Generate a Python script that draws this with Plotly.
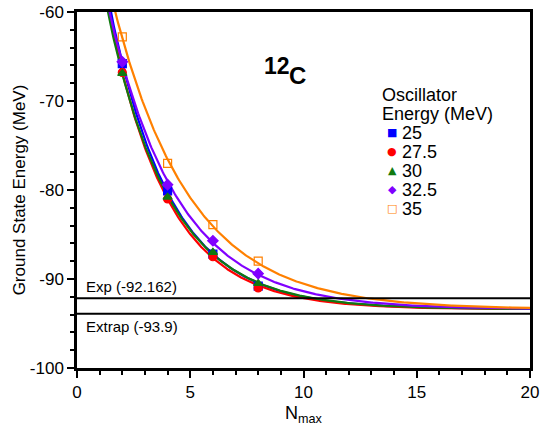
import numpy as np
import plotly.graph_objects as go

# ---- data ----
nmax = [2, 4, 6, 8]
osc_energies = ["25", "27.5", "30", "32.5", "35"]
e_25 = [-65.8, -80.1, -87.2, -90.8]
e_27_5 = [-66.8, -81.0, -87.5, -91.0]
e_30 = [-66.9, -80.8, -87.0, -90.5]
e_32_5 = [-65.6, -79.4, -85.7, -89.4]
e_35 = [-62.8, -77.0, -83.9, -88.0]
exp_value = -92.162
extrap_value = -93.9
x_ticks = [0, 5, 10, 15, 20]
y_ticks = [-100, -90, -80, -70, -60]

series = [e_25, e_27_5, e_30, e_32_5, e_35]
colors = ["#0000FF", "#FF0000", "#107A10", "#8000FF", "#FF8000"]
symbols = ["square", "circle", "triangle-up", "diamond", "square-open"]
legend_glyphs = ["■", "●", "▲", "◆", "□"]

FONT = "Liberation Sans, Arial, Helvetica, sans-serif"


def fit_bc(x, y, a):
    """For fixed asymptote a, fit y = a + b*exp(-c*x) (grid search on c)."""
    best = None
    d = y - a
    for c in np.linspace(0.05, 1.2, 1151):
        e = np.exp(-c * x)
        b = np.dot(e, d) / np.dot(e, e)
        r = np.sum((a + b * e - y) ** 2)
        if best is None or r < best[0]:
            best = (r, b, c)
    return best


def joint_fit(x, ys):
    """Exponential fits sharing a common asymptote."""
    x = np.asarray(x, float)
    ys = [np.asarray(y, float) for y in ys]
    best = None
    for a in np.linspace(-96, -92.6, 69):
        fits = [fit_bc(x, y, a) for y in ys]
        tot = sum(f[0] for f in fits)
        if best is None or tot < best[0]:
            best = (tot, a, fits)
    return best[1], [(f[1], f[2]) for f in best[2]]


asym, params = joint_fit(nmax, series)

fig = go.Figure()
xs = np.linspace(0.5, 20, 400)
for (b, c), col in zip(params, colors):
    fig.add_trace(go.Scatter(x=xs, y=asym + b * np.exp(-c * xs), mode="lines",
                             line=dict(color=col, width=2.2), showlegend=False,
                             hoverinfo="skip"))
for vals, col, sym, name in zip(series, colors, symbols, osc_energies):
    fig.add_trace(go.Scatter(x=nmax, y=vals, mode="markers", name=name,
                             marker=dict(color=col, symbol=sym, size=8,
                                         line=dict(color=col, width=1.2)),
                             showlegend=False))

# reference lines
for val in [exp_value, extrap_value]:
    fig.add_shape(type="line", xref="paper", x0=0, x1=1, yref="y", y0=val, y1=val,
                  line=dict(color="black", width=2))

ann = []
ann.append(dict(x=0.3, y=exp_value, xref="x", yref="y", text=f"Exp ({exp_value})",
                showarrow=False, xanchor="left", yanchor="bottom", yshift=1,
                font=dict(size=15, color="black", family=FONT)))
ann.append(dict(x=0.3, y=extrap_value, xref="x", yref="y", text=f"Extrap ({extrap_value})",
                showarrow=False, xanchor="left", yanchor="top", yshift=-2,
                font=dict(size=15, color="black", family=FONT)))

L, R, T, B = 77, 530, 12, 368


def px_x(px):
    return (px - L) / (R - L)


def px_y(py):
    return (B - py) / (B - T)


# 12C label
ann.append(dict(x=px_x(262), y=px_y(66), xref="paper", yref="paper", text="<b>12</b>",
                showarrow=False, xanchor="left", yanchor="middle",
                font=dict(size=23, color="black", family=FONT)))
ann.append(dict(x=px_x(287), y=px_y(75), xref="paper", yref="paper", text="<b>C</b>",
                showarrow=False, xanchor="left", yanchor="middle",
                font=dict(size=24, color="black", family=FONT)))

# legend (text annotations)
ann.append(dict(x=px_x(381), y=px_y(95), xref="paper", yref="paper", text="Oscillator",
                showarrow=False, xanchor="left", yanchor="middle", height=17, borderpad=0,
                font=dict(size=18, color="black", family=FONT)))
ann.append(dict(x=px_x(381), y=px_y(114), xref="paper", yref="paper", text="Energy (MeV)",
                showarrow=False, xanchor="left", yanchor="middle", height=20, borderpad=0,
                font=dict(size=18, color="black", family=FONT)))
for i, (name, col, g) in enumerate(zip(osc_energies, colors, legend_glyphs)):
    yc = 132.5 + 19 * i
    ann.append(dict(x=px_x(392), y=px_y(yc), xref="paper", yref="paper", text=g,
                    showarrow=False, xanchor="center", yanchor="middle", borderpad=0,
                    font=dict(size=11, color=col, family="DejaVu Sans")))
    ann.append(dict(x=px_x(401), y=px_y(yc), xref="paper", yref="paper", text=name,
                    showarrow=False, xanchor="left", yanchor="middle", height=17, borderpad=0,
                    font=dict(size=18, color="black", family=FONT)))

fig.update_layout(
    width=544, height=426,
    margin=dict(l=L, r=544 - R, t=T, b=426 - B),
    paper_bgcolor="white", plot_bgcolor="white",
    font=dict(family=FONT, color="black"),
    annotations=ann,
    showlegend=False,
)
fig.update_xaxes(range=[0, 20], tickvals=x_ticks, ticktext=[str(v) for v in x_ticks],
                 ticks="outside", ticklen=7, tickwidth=2,
                 tickcolor="black", showline=True, linecolor="black", linewidth=2.5,
                 mirror=True, showgrid=False, zeroline=False, automargin=False,
                 tickfont=dict(size=17, family=FONT),
                 minor=dict(dtick=1, ticks="outside", ticklen=4, tickwidth=2,
                            tickcolor="black", showgrid=False),
                 title=dict(text="N<sub>max</sub>", font=dict(size=18, family=FONT), standoff=8))
fig.update_yaxes(range=[-100, -60], tickvals=y_ticks, ticktext=[str(v) for v in y_ticks],
                 ticks="outside", ticklen=7, tickwidth=2,
                 tickcolor="black", showline=True, linecolor="black", linewidth=2.5,
                 mirror=True, showgrid=False, zeroline=False, automargin=False,
                 tickfont=dict(size=17, family=FONT),
                 minor=dict(dtick=2, ticks="outside", ticklen=4, tickwidth=2,
                            tickcolor="black", showgrid=False),
                 title=dict(text="Ground State Energy (MeV)", font=dict(size=17, family=FONT),
                            standoff=0))

fig.write_html("out.html")
